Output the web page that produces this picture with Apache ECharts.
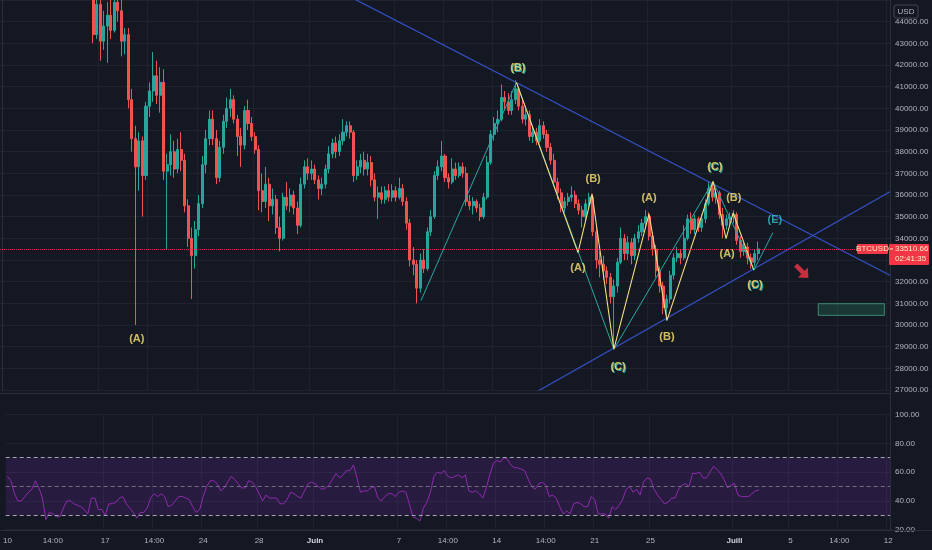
<!DOCTYPE html>
<html>
<head>
<meta charset="utf-8">
<script src="https://cdn.jsdelivr.net/npm/echarts@6/dist/echarts.min.js"></script>
<style>
html,body{margin:0;padding:0;background:#141823;}
#c{width:932px;height:550px;}
</style>
</head>
<body>
<div id="c"></div>
<script>
// ---------- DATA ----------
const periodStart = Date.UTC(2021, 4, 10); // 10 May 2021, 6h candles
const periodHours = 6;
const categoryCount = 253;
const categories = [];
for (let k = 0; k < categoryCount; k++) {
  const d = new Date(periodStart + k * periodHours * 3600000);
  const p = n => String(n).padStart(2, '0');
  categories.push(p(d.getUTCMonth() + 1) + '-' + p(d.getUTCDate()) + ' ' + p(d.getUTCHours()) + ':00');
}

// bottom time-axis labels (category index -> text)
const tickIndex = [0, 13, 28, 42, 56, 72, 88, 112, 126, 140, 154, 168, 184, 208, 224, 238, 252];
const tickText  = ['10', '14:00', '17', '14:00', '24', '28', 'Juin', '7', '14:00', '14', '14:00', '21', '25', 'Juill', '5', '14:00', '12'];
const monthLabels = ['Juin', 'Juill'];

// BTCUSD candles [open, close, low, high]
const candles = [
[58240,58900,57800,59500],[58900,57600,57200,59000],[57600,56800,56100,57900],[56800,55800,53400,57100],
[55800,56900,54900,57300],[56900,55900,55300,57200],[55900,56500,55500,57000],[56500,56700,55900,57400],
[56700,57300,56400,58000],[57300,56200,55800,57600],[56200,54800,54300,56600],[54800,49500,48600,55400],
[49500,50600,46500,51300],[50600,48600,47800,51200],[48600,50300,47900,50800],[50300,49700,48900,51300],
[49700,50800,49400,51500],[50800,50100,49700,51100],[50100,50900,49800,51300],[50900,49900,49300,51000],
[49900,48800,48400,50400],[48800,48500,47700,49300],[48500,47000,46800,48700],[47000,46700,45900,47700],
[46700,47600,46300,48300],[47600,46200,45600,48000],[46200,43400,43000,46400],[43400,44800,43200,45200],
[44800,43100,42200,45300],[43100,43800,42700,44500],[43800,44300,42100,44900],[44300,43600,43200,45400],
[43600,44900,43500,45500],[44900,44500,44000,45600],[44500,43100,42400,45000],[43100,43400,42500,43700],
[43400,40400,40000,43700],[40400,38600,38000,40900],[38600,37300,30000,39200],[37300,38500,36200,38900],
[38500,36900,35000,38700],[36900,40100,36700,40300],[40100,40800,39600,41200],[40800,41500,40300,42600],
[41500,40600,40200,42200],[40600,41200,39800,41900],[41200,37100,36700,41800],[37100,37400,33500,37900],
[37400,38000,36900,38800],[38000,37200,36800,38500],[37200,38100,37000,38600],[38100,37600,37100,38900],
[37600,35500,35200,37900],[35500,34000,33600,35800],[34000,33200,31200,34500],[33200,34400,32600,34800],
[34400,35600,34100,36000],[35600,37400,35400,37800],[37400,38600,37000,39000],[38600,39500,38300,39900],
[39500,38600,38300,39900],[38600,36800,36500,39000],[36800,38200,36600,38500],[38200,39400,37900,39700],
[39400,40000,39100,40500],[40000,40400,39600,40900],[40400,39500,39300,40600],[39500,38700,37800,39700],
[38700,38300,37300,39100],[38300,39900,38100,40100],[39900,39300,39000,40400],[39300,38700,38500,39600],
[38700,38100,37900,38900],[38100,36200,35300,38300],[36200,35700,35200,37000],[35700,36500,35400,37300],
[36500,35500,34800,36800],[35500,35800,35100,36300],[35800,34500,34200,36000],[34500,34000,33400,35000],
[34000,35900,33900,36100],[35900,35500,35300,36600],[35500,36000,35200,36300],[36000,35400,35100,36200],
[35400,34600,34200,35700],[34600,36500,34500,36800],[36500,37300,36300,37600],[37300,37000,36700,37700],
[37000,37200,36700,37600],[37200,36700,36500,37400],[36700,36300,35800,36900],[36300,36500,36000,36800],
[36500,37200,36300,37400],[37200,37900,37000,38250],[37900,38400,37700,38600],[38400,38000,37700,38700],
[38000,38500,37800,38800],[38500,38900,38300,39500],[38900,39200,38700,39400],[39200,38900,38600,39400],
[38900,36900,36600,39000],[36900,37300,36700,37600],[37300,37600,37000,37900],[37600,37200,36900,38000],
[37200,37500,36900,37900],[37500,36700,36400,37800],[36700,35900,35700,37000],[35900,36100,34900,36400],
[36100,35800,35600,36400],[35800,36200,35600,36400],[36200,35900,35700,36500],[35900,36200,35700,36500],
[36200,35900,35700,36400],[35900,36300,35800,36800],[36300,35700,35500,36500],[35700,34700,34400,35900],
[34700,33000,32700,34900],[33000,32800,32300,33600],[32800,31700,31000,33000],[31700,33000,31500,33300],
[33000,32600,32400,33500],[32600,34300,32500,34500],[34300,35000,34100,35300],[35000,36900,34900,37100],
[36900,37300,36700,37600],[37300,37800,37100,38500],[37800,36800,36600,37900],[36800,36600,36300,37000],
[36600,37200,36500,37700],[37200,36900,36700,37500],[36900,37300,36800,37500],[37300,37000,36800,37500],
[37000,35700,35500,37300],[35700,35500,35300,36000],[35500,35700,35100,35900],[35700,35400,35200,35800],
[35400,35000,34800,35600],[35000,35900,34900,36100],[35900,37500,35800,37800],[37500,38800,37400,39000],
[38800,39300,38500,39600],[39300,39500,38900,39900],[39500,40500,39400,41100],[40500,40300,39900,40800],
[40300,39900,39700,40700],[39900,40400,39700,40800],[40400,40900,40200,41300],[40900,40100,39900,41000],
[40100,39500,39300,40400],[39500,39700,39200,40000],[39700,38700,38500,39900],[38700,38900,38400,39200],
[38900,38500,38300,39100],[38500,39200,38400,39500],[39200,38800,38600,39400],[38800,38200,38000,39000],
[38200,37600,37400,38400],[37600,36600,36400,37900],[36600,36100,35800,36800],[36100,35400,35200,36300],
[35400,35700,35200,35900],[35700,35900,35500,36100],[35900,36000,35700,36400],[36000,35600,35400,36200],
[35600,35300,35100,35800],[35300,35000,34500,35500],[35000,35600,34800,35800],[35600,35900,35400,36100],
[35900,34300,34100,36000],[34300,33000,32600,34500],[33000,32800,32200,33400],[32800,32500,32100,33200],
[32500,32200,31900,32700],[32200,31300,31000,32400],[31300,31800,28900,32100],[31800,32900,31500,33100],
[32900,34000,32800,34500],[34000,33300,33000,34200],[33300,33800,33000,34100],[33800,33200,32800,34000],
[33200,34000,33000,34200],[34000,34300,33800,34600],[34300,34700,34100,34900],[34700,35000,34500,35300],
[35000,34100,33900,35200],[34100,33500,33200,34300],[33500,32500,32200,33700],[32500,31800,31500,32700],
[31800,30800,30500,32000],[30800,31200,30200,31400],[31200,32300,31000,32500],[32300,33100,32100,33300],
[33100,33300,32900,33600],[33300,33100,32800,33500],[33100,34000,33000,34600],[34000,34900,33900,35100],
[34900,34400,34200,35200],[34400,34900,34200,35100],[34900,34500,34300,35000],[34500,34900,34300,35100],
[34900,35600,34700,35800],[35600,36300,35500,36600],[36300,35900,35700,36600],[35900,36100,35600,36300],
[36100,35100,34900,36200],[35100,34600,34000,35400],[34600,34900,34400,35100],[34900,35000,34600,35200],
[35000,35100,34700,35300],[35100,33900,33700,35200],[33900,33400,33100,34100],[33400,33600,33200,33800],
[33600,33100,32800,33800],[33100,32900,32600,33300],[32900,33300,32700,33500],[33300,33510.66,33000,33850]
];

// RSI (14) per candle
const rsi = [
57,54,45,40,40,43,46,48,54,49,
42,27,32,31,29,29,35,40,40,38,
37,36,34,31,42,42,34,34,30,38,
38,39,42,43,38,35,32,28,32,32,
35,42,45,43,45,43,36,37,40,43,
43,42,41,36,32,34,43,50,54,54,
52,47,49,53,57,55,52,49,49,54,
53,50,45,40,44,42,42,42,38,38,
41,46,45,43,42,47,52,53,52,50,
48,49,51,55,59,56,58,61,61,65,
56,46,47,47,49,50,42,40,43,45,
45,43,46,47,46,38,29,28,26,35,
39,46,57,60,59,61,57,56,57,58,
56,58,47,46,47,45,42,49,58,66,
68,67,70,69,65,63,63,62,61,55,
50,48,52,53,51,43,44,42,36,31,
33,31,38,39,38,36,36,43,41,31,
31,31,28,36,34,37,41,48,50,46,
48,44,53,56,55,48,44,41,38,39,
42,42,48,51,52,50,59,59,60,56,
56,60,64,62,59,55,49,51,52,44,
43,43,43,45,47,47.6
];
const rsiLevels = [70, 50, 30];

// drawings: [category index, price]
const trendUpper = [[100, 45064], [252.5, 32300]];
const trendLower = [[152.2, 26930], [252.5, 36150]];
const tealWave = [[119.2, 31134], [146.3, 41197], [174.0, 28882], [202.2, 36625], [213.8, 32535], [219.2, 34259]];
const yellowWave = [[146.3, 41197], [163.8, 33340], [167.8, 36051], [174.0, 28882], [184.0, 35132], [189.1, 30215],
                    [202.2, 36625], [205.9, 33983], [207.9, 35178], [213.8, 32535]];
const tealLabels = [[146.7, 41840, '(B)'], [175.2, 28056, '(C)'], [202.7, 37291, '(C)'], [214.1, 31869, '(D)'], [219.5, 34902, '(E)']];
const yellowLabels = [[38.4, 29342, '(A)'], [146.7, 41840, '(B)'], [163.8, 32650, '(A)'], [168.1, 36740, '(B)'],
                      [175.2, 28056, '(C)'], [184.0, 35867, '(A)'], [189.1, 29434, '(B)'], [202.7, 37291, '(C)'],
                      [208.1, 35867, '(B)'], [206.2, 33294, '(A)'], [214.1, 31869, '(C)']];
const targetBox = [[232.1, 30983], [250.9, 30445]];
const arrowPoint = [[227.5, 32467]];
const symbolName = 'BTCUSD';
const countdown = '02:41:35';
const currency = 'USD';

// ---------- CHART ----------
const FONT = '"Liberation Sans", Arial, sans-serif';
const lastPrice = candles[candles.length - 1][1];
const isTick = (idx) => tickIndex.indexOf(idx) >= 0;
const isGridTick = (idx) => idx > 0 && tickIndex.indexOf(idx) >= 0;
const GRID = '#1f2330';
const AXIS = '#2a2e39';
const TXT = '#b2b5be';
const TEAL = '#2aa9a3';
const YEL = '#f4dc7e';

const toItems = arr => arr.map(r => ({ value: [r[0], r[1]], name: r[2] }));

const option = {
  backgroundColor: '#141823',
  animation: false,
  textStyle: { fontFamily: FONT },
  grid: [
    { left: 0, top: -2, width: 890, height: 392 },
    { left: 0, top: 414.5, width: 890, height: 115.2 }
  ],
  xAxis: [
    { type: 'category', gridIndex: 0, data: categories, boundaryGap: true,
      axisLine: { show: false }, axisTick: { show: false }, axisLabel: { show: false },
      splitLine: { show: true, interval: isGridTick, showMinLine: false, lineStyle: { color: GRID, width: 1 } } },
    { type: 'value', gridIndex: 0, min: -0.5, max: categoryCount - 0.5, show: false },
    { type: 'category', gridIndex: 1, data: categories, boundaryGap: true,
      axisLine: { show: false }, axisTick: { show: false },
      axisLabel: { interval: isTick, color: TXT, fontSize: 8, margin: 7, fontFamily: FONT,
        formatter: (v, idx) => {
          const k = tickIndex.indexOf(idx);
          if (k < 0) return '';
          const t = tickText[k];
          return monthLabels.indexOf(t) >= 0 ? '{m|' + t + '}' : t;
        },
        rich: { m: { fontWeight: 'bold', fontSize: 8, color: '#d1d4dc', fontFamily: FONT } } },
      splitLine: { show: true, interval: isGridTick, showMinLine: false, lineStyle: { color: GRID, width: 1 } } }
  ],
  yAxis: [
    { type: 'value', gridIndex: 0, position: 'right', min: 27000, max: 45000, interval: 1000, scale: false,
      axisLine: { show: true, lineStyle: { color: AXIS } }, axisTick: { show: false },
      axisLabel: { color: TXT, fontSize: 8, margin: 5, fontFamily: FONT, showMaxLabel: false,
        formatter: v => (v > 44000 ? '' : v.toFixed(2)) },
      splitLine: { lineStyle: { color: GRID } } },
    { type: 'value', gridIndex: 1, position: 'right', min: 20, max: 100, interval: 20,
      axisLine: { show: true, lineStyle: { color: AXIS } }, axisTick: { show: false },
      axisLabel: { color: TXT, fontSize: 8, margin: 5, fontFamily: FONT, formatter: v => v.toFixed(2) },
      splitLine: { lineStyle: { color: GRID } } }
  ],
  series: [
    { type: 'candlestick', name: symbolName, xAxisIndex: 0, yAxisIndex: 0, data: candles, clip: true,
      barWidth: '72%', silent: true,
      itemStyle: { color: '#26a69a', color0: '#ef5350', borderColor: '#26a69a', borderColor0: '#ef5350', borderWidth: 1 },
      markLine: { silent: true, symbol: 'none', data: [{ yAxis: lastPrice }],
        lineStyle: { type: 'dotted', color: '#f23645', width: 1, opacity: 0.85 }, label: { show: false } } },
    { type: 'line', xAxisIndex: 1, yAxisIndex: 0, data: trendUpper, symbol: 'none', silent: true,
      lineStyle: { color: '#3452c8', width: 1.2 },
      markArea: { silent: true,
        itemStyle: { color: 'rgba(38,140,100,0.28)', borderColor: '#3f8a70', borderWidth: 1 },
        data: [[{ coord: targetBox[0] }, { coord: targetBox[1] }]] } },
    { type: 'line', xAxisIndex: 1, yAxisIndex: 0, data: trendLower, symbol: 'none', silent: true,
      lineStyle: { color: '#3452c8', width: 1.2 } },
    { type: 'line', xAxisIndex: 1, yAxisIndex: 0, data: tealWave, symbol: 'none', silent: true,
      lineStyle: { color: TEAL, width: 1 } },
    { type: 'line', xAxisIndex: 1, yAxisIndex: 0, data: yellowWave, symbol: 'none', silent: true,
      lineStyle: { color: YEL, width: 1.1 } },
    { type: 'scatter', xAxisIndex: 1, yAxisIndex: 0, data: toItems(tealLabels), symbolSize: 2, silent: true,
      itemStyle: { color: 'rgba(0,0,0,0)' }, z: 5,
      label: { show: true, position: 'inside', formatter: '{b}', color: '#2cc4c8', fontSize: 11, fontWeight: 'bold',
        fontFamily: FONT, textBorderWidth: 0, offset: [1, 1] } },
    { type: 'scatter', xAxisIndex: 1, yAxisIndex: 0, data: toItems(yellowLabels), symbolSize: 2, silent: true,
      itemStyle: { color: 'rgba(0,0,0,0)' }, z: 6,
      label: { show: true, position: 'inside', formatter: '{b}', color: '#ffe470', fontSize: 11, fontWeight: 'bold',
        fontFamily: FONT, textBorderWidth: 0 } },
    { type: 'scatter', xAxisIndex: 1, yAxisIndex: 0, data: arrowPoint, silent: true,
      symbol: 'path://M0,6 L12,6 L12,0 L21,9 L12,18 L12,12 L0,12 Z', symbolSize: [18, 14], symbolRotate: -45,
      itemStyle: { color: '#f23645' } },
    { type: 'line', xAxisIndex: 2, yAxisIndex: 1, data: rsi, symbol: 'none', silent: true,
      lineStyle: { color: '#8f2bad', width: 1 },
      markArea: { silent: true, itemStyle: { color: 'rgba(110,40,170,0.22)' },
        data: [[{ yAxis: rsiLevels[2] }, { yAxis: rsiLevels[0] }]] },
      markLine: { silent: true, symbol: 'none', label: { show: false },
        data: [
          { yAxis: rsiLevels[0], lineStyle: { color: '#a3a6af', type: [4, 3], width: 1 } },
          { yAxis: rsiLevels[1], lineStyle: { color: '#6e717b', type: [4, 3], width: 1 } },
          { yAxis: rsiLevels[2], lineStyle: { color: '#a3a6af', type: [4, 3], width: 1 } }
        ] } }
  ]
};

const chart = echarts.init(document.getElementById('c'));
chart.setOption(option);

const py = chart.convertToPixel({ yAxisIndex: 0 }, lastPrice);
const lbl = (txt, x, y, align) => ({ type: 'text', z: 101, x: x, y: y,
  style: { text: txt, fill: '#fff1c4', font: '8px ' + FONT, align: align, verticalAlign: 'middle' } });
chart.setOption({
  graphic: [
    { type: 'line', z: 90, shape: { x1: 0, y1: 393.5, x2: 890, y2: 393.5 }, style: { stroke: AXIS, lineWidth: 1 } },
    { type: 'line', z: 90, shape: { x1: 890.5, y1: 0, x2: 890.5, y2: 531 }, style: { stroke: AXIS, lineWidth: 1 } },
    { type: 'line', z: 90, shape: { x1: 0, y1: 530.5, x2: 932, y2: 530.5 }, style: { stroke: AXIS, lineWidth: 1 } },
    { type: 'rect', z: 100, shape: { x: 894, y: 5, width: 24, height: 13, r: 2 },
      style: { fill: 'none', stroke: '#434651', lineWidth: 1 } },
    { type: 'text', z: 101, x: 906, y: 11.5,
      style: { text: currency, fill: TXT, font: '8px ' + FONT, align: 'center', verticalAlign: 'middle' } },
    { type: 'rect', z: 100, shape: { x: 857, y: py - 5, width: 31, height: 10, r: 1 }, style: { fill: '#f23645' } },
    lbl(symbolName, 872.5, py, 'center'),
    { type: 'rect', z: 100, shape: { x: 889, y: py - 5, width: 40, height: 21, r: 1 }, style: { fill: '#f23645' } },
    { type: 'line', z: 101, shape: { x1: 890, y1: py, x2: 893, y2: py }, style: { stroke: '#fff1c4', lineWidth: 1 } },
    lbl(lastPrice.toFixed(2), 895, py, 'left'),
    lbl(countdown, 895, py + 10, 'left')
  ]
});
</script>
</body>
</html>
